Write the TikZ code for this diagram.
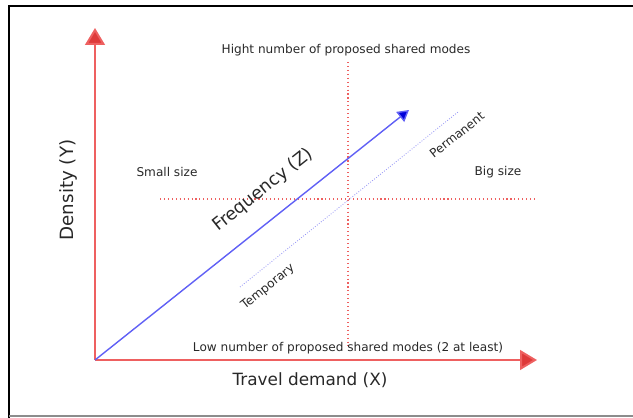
\documentclass[tikz,border=0pt]{standalone}
\usepackage{fontspec}
\setmainfont{DejaVu Sans}
\usetikzlibrary{arrows.meta,positioning,calc}
\definecolor{axisred}{RGB}{238,96,96}
\definecolor{headred}{RGB}{222,58,58}
\definecolor{freqblue}{RGB}{96,96,245}
\definecolor{bandblue}{RGB}{150,150,245}
\definecolor{txtgray}{RGB}{40,40,40}
\tikzset{
  axisarrow/.style={draw=axisred, line width=1.4pt, -{Triangle[length=12pt, width=14pt, fill=headred]}},
  freqarrow/.style={draw=freqblue, line width=1pt, -{Triangle[length=8pt, width=9pt, fill=blue!85!black]}},
  guide/.style={draw=axisred, line width=0.8pt, dash pattern=on 0.8pt off 2pt},
  band/.style={draw=bandblue, line width=0.6pt, dash pattern=on 0.6pt off 1.2pt},
  smalltext/.style={text=txtgray, font=\fontsize{8.6}{10}\selectfont, inner sep=1pt},
  bigtext/.style={text=txtgray, font=\fontsize{12.5}{14}\selectfont, inner sep=1pt},
}
\begin{document}
\begin{tikzpicture}[x=0.025cm, y=-0.025cm]
    \useasboundingbox (0,0) rectangle (633,418);
    % frame
    \draw[black, line width=2pt] (9,418) -- (9,6) -- (633,6);
    \draw[black!45, line width=1pt] (9,416) -- (633,416);
    % points
    \coordinate (O) at (95,360);
    \coordinate (ytop) at (95,28);
    \coordinate (xend) at (537,360);
    \coordinate (ztip) at (409,110);
    \coordinate (vtop) at (348,62);
    \coordinate (vbot) at (348,346);
    \coordinate (hleft) at (160,199);
    \coordinate (hright) at (537,199);
    \coordinate (bstart) at (240,287);
    \coordinate (bend) at (458,112);
    % guides
    \draw[guide] (vtop) -- (vbot);
    \draw[guide] (hleft) -- (hright);
    \draw[band] (bstart) -- (bend);
    % axes
    \draw[axisarrow] (O) -- (ytop);
    \draw[axisarrow] (O) -- (xend);
    \draw[freqarrow] (O) -- (ztip);
    % labels
    \node[smalltext] (high) at (346,50) {Hight number of proposed shared modes};
    \node[smalltext] (low) at (348,348) {Low number of proposed shared modes (2 at least)};
    \node[smalltext] (small) at (167,172) {Small size};
    \node[smalltext] (big) at (498,172) {Big size};
    \node[smalltext, rotate=38.5] (perm) at (457,135) {Permanent};
    \node[smalltext, rotate=38.5] (temp) at (268,287) {Temporary};
    \node[bigtext, rotate=38.5] (freq) at (263,190) {Frequency (Z)};
    \node[bigtext, font=\fontsize{12}{14}\selectfont] (xlab) at (310,380) {Travel demand (X)};
    \node[bigtext, font=\fontsize{13}{15}\selectfont, rotate=90] (ylab) at (68,190) {Density (Y)};
\end{tikzpicture}
\end{document}
